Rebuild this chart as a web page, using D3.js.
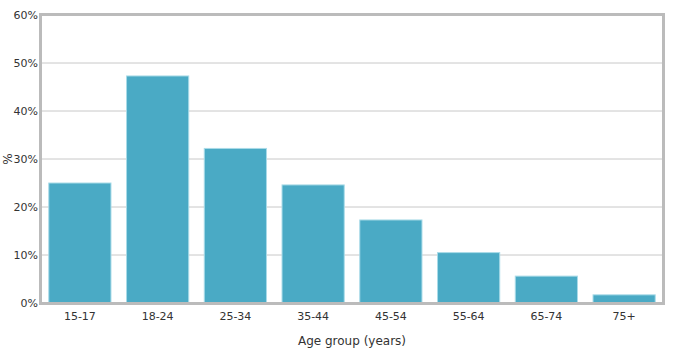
<!DOCTYPE html>
<html>
<head>
<meta charset="utf-8">
<script src="https://cdn.jsdelivr.net/npm/d3@7"></script>
<style>
  body { margin: 0; background: #fff; }
  svg text { font-family: "DejaVu Sans", Verdana, sans-serif; fill: #333; }
</style>
</head>
<body>
<div id="chart"></div>
<script>
// Share of respondents by age group
const ageGroups = ["15-17", "18-24", "25-34", "35-44", "45-54", "55-64", "65-74", "75+"];
const shares = [25.0, 47.3, 32.2, 24.6, 17.3, 10.5, 5.6, 1.7];
const yTicks = [0, 10, 20, 30, 40, 50, 60];

const width = 678, height = 362;
const margin = { top: 15, right: 15, bottom: 59, left: 41 };

const svg = d3.select("#chart").append("svg")
    .attr("width", width)
    .attr("height", height);

const x = d3.scaleBand()
    .domain(ageGroups)
    .range([margin.left, width - margin.right])
    .paddingInner(0.2)
    .paddingOuter(0.1);

const y = d3.scaleLinear()
    .domain([0, 60])
    .range([height - margin.bottom, margin.top]);

// gridlines
svg.append("g")
    .selectAll("line")
    .data(yTicks)
    .join("line")
    .attr("x1", margin.left)
    .attr("x2", width - margin.right)
    .attr("y1", d => y(d))
    .attr("y2", d => y(d))
    .attr("stroke", "#c8c8c8")
    .attr("stroke-width", 1);

// bars
svg.append("g")
    .selectAll("rect")
    .data(ageGroups)
    .join("rect")
    .attr("x", d => x(d))
    .attr("width", x.bandwidth())
    .attr("y", (d, i) => y(shares[i]))
    .attr("height", (d, i) => y(0) - y(shares[i]))
    .attr("fill", "#4aaac5")
    .attr("stroke", "#a9dbe8")
    .attr("stroke-width", 1);

// frame
svg.append("rect")
    .attr("x", margin.left - 0.5)
    .attr("y", margin.top - 0.5)
    .attr("width", width - margin.left - margin.right + 1)
    .attr("height", height - margin.top - margin.bottom + 1)
    .attr("fill", "none")
    .attr("stroke", "#bbbbbb")
    .attr("stroke-width", 3);

// y tick labels
svg.append("g")
    .selectAll("text")
    .data(yTicks)
    .join("text")
    .attr("x", margin.left - 3)
    .attr("y", d => y(d))
    .attr("dy", "0.35em")
    .attr("text-anchor", "end")
    .style("font-size", "11px")
    .text(d => d + "%");

// x tick labels
svg.append("g")
    .selectAll("text")
    .data(ageGroups)
    .join("text")
    .attr("x", d => x(d) + x.bandwidth() / 2)
    .attr("y", height - margin.bottom + 17)
    .attr("text-anchor", "middle")
    .style("font-size", "11px")
    .text(d => d);

// axis titles
svg.append("text")
    .attr("transform", "translate(12," + (y(30)) + ") rotate(-90)")
    .attr("text-anchor", "middle")
    .style("font-size", "12px")
    .text("%");

svg.append("text")
    .attr("x", (margin.left + width - margin.right) / 2)
    .attr("y", height - 17)
    .attr("text-anchor", "middle")
    .style("font-size", "12px")
    .text("Age group (years)");
</script>
</body>
</html>
